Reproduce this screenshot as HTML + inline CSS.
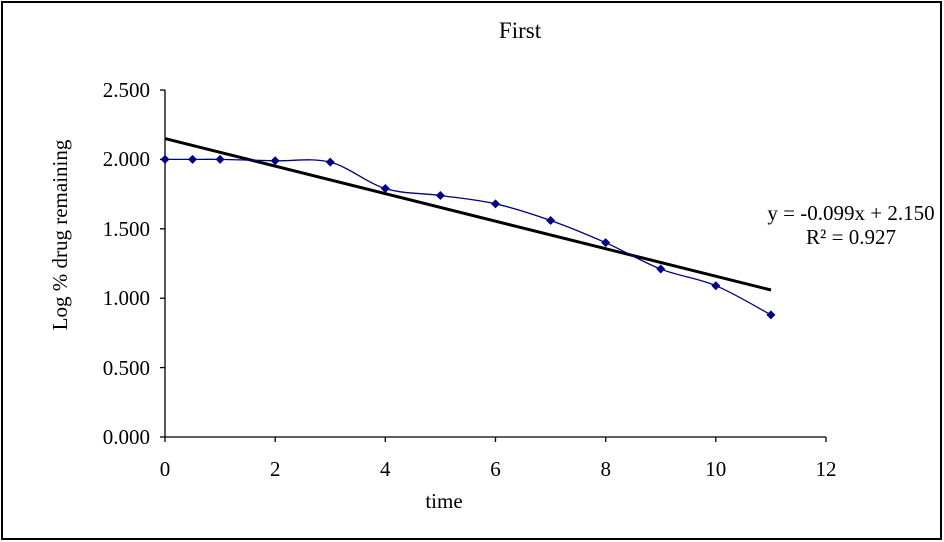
<!DOCTYPE html>
<html><head><meta charset="utf-8"><style>
html,body{margin:0;padding:0;background:#fff;}
svg{display:block;}
text{font-family:"Liberation Serif",serif;fill:#000;}
</style></head><body>
<svg id="s" width="944" height="542" xmlns="http://www.w3.org/2000/svg">
<rect x="2" y="2" width="939" height="537" fill="#fff" stroke="#000" stroke-width="2"/>
<text x="520" y="38" font-size="23" text-anchor="middle">First</text>
<g stroke="#000" stroke-width="1.3">
<line x1="165" y1="90" x2="165" y2="437"/>
<line x1="165" y1="437" x2="826" y2="437"/>
<line x1="160" y1="90" x2="165" y2="90"/>
<line x1="160" y1="159.4" x2="165" y2="159.4"/>
<line x1="160" y1="228.8" x2="165" y2="228.8"/>
<line x1="160" y1="298.2" x2="165" y2="298.2"/>
<line x1="160" y1="367.6" x2="165" y2="367.6"/>
<line x1="160" y1="437" x2="165" y2="437"/>
<line x1="165" y1="437" x2="165" y2="442"/>
<line x1="275.2" y1="437" x2="275.2" y2="442"/>
<line x1="385.3" y1="437" x2="385.3" y2="442"/>
<line x1="495.5" y1="437" x2="495.5" y2="442"/>
<line x1="605.7" y1="437" x2="605.7" y2="442"/>
<line x1="715.8" y1="437" x2="715.8" y2="442"/>
<line x1="826" y1="437" x2="826" y2="442"/>
</g>
<g font-size="21" text-anchor="end">
<text x="150" y="97">2.500</text>
<text x="150" y="166">2.000</text>
<text x="150" y="236">1.500</text>
<text x="150" y="305">1.000</text>
<text x="150" y="375">0.500</text>
<text x="150" y="444">0.000</text>
</g>
<g font-size="21" text-anchor="middle">
<text x="165" y="476">0</text>
<text x="275.2" y="476">2</text>
<text x="385.3" y="476">4</text>
<text x="495.5" y="476">6</text>
<text x="605.7" y="476">8</text>
<text x="715.8" y="476">10</text>
<text x="826" y="476">12</text>
<text x="444" y="508">time</text>
</g>
<text transform="translate(67,235) rotate(-90)" font-size="21" text-anchor="middle">Log % drug remaining</text>
<line x1="165" y1="138.6" x2="771" y2="290" stroke="#000" stroke-width="3"/>
<path id="curve" fill="none" stroke="#000080" stroke-width="1.3"/>
<g id="pts" fill="#000080"></g>
<text x="851" y="220" font-size="21" text-anchor="middle">y = -0.099x + 2.150</text>
<text x="851" y="244" font-size="21" text-anchor="middle">R² = 0.927</text>
</svg>
<script>
var d=[[0,2],[0.5,2],[1,2],[2,1.99],[3,1.98],[4,1.79],[5,1.74],[6,1.68],[7,1.56],[8,1.40],[9,1.21],[10,1.09],[11,0.88]];
var p=d.map(function(a){return [165+a[0]*55.083,437-a[1]*138.8];});
var s="M"+p[0][0]+","+p[0][1];
for(var i=0;i<p.length-1;i++){
 var p0=p[i-1]||p[i],p1=p[i],p2=p[i+1],p3=p[i+2]||p2;
 var c1=[p1[0]+(p2[0]-p0[0])/6,p1[1]+(p2[1]-p0[1])/6];
 var c2=[p2[0]-(p3[0]-p1[0])/6,p2[1]-(p3[1]-p1[1])/6];
 s+=" C"+c1+" "+c2+" "+p2;
}
document.getElementById("curve").setAttribute("d",s);
var g=document.getElementById("pts"),h="";
p.forEach(function(q){h+='<polygon points="'+q[0]+','+(q[1]-4.5)+' '+(q[0]+4.5)+','+q[1]+' '+q[0]+','+(q[1]+4.5)+' '+(q[0]-4.5)+','+q[1]+'"/>';});
g.innerHTML=h;
</script>
</body></html>
